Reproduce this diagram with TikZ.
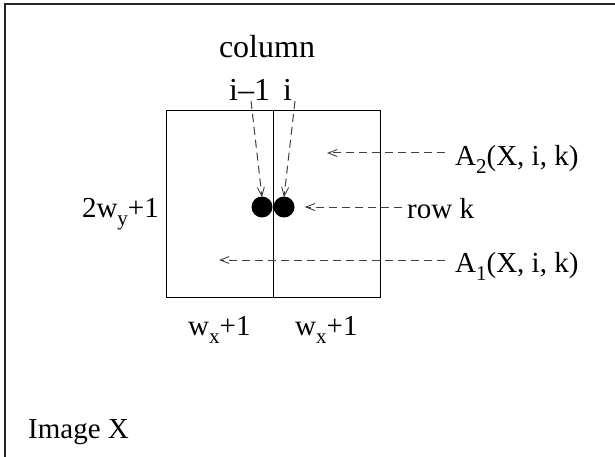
\documentclass[tikz,border=0pt]{standalone}
\usepackage{fontspec}
\setmainfont{Liberation Serif}
\usetikzlibrary{arrows.meta}
\newcommand{\sbs}[1]{\raisebox{-0.28em}{\fontsize{21}{24}\selectfont #1}}
\tikzset{
  lbl/.style={inner sep=0pt, font=\fontsize{29}{34}\selectfont},
  biglbl/.style={inner sep=0pt, font=\fontsize{32}{37}\selectfont},
  frameline/.style={line width=1.4pt, black!85},
  boxline/.style={line width=1pt},
  dasharrow/.style={line width=1pt, black!75, dash pattern=on 8pt off 5pt, -{Straight Barb[length=9pt,width=7pt,line width=0.9pt]}},
  dot/.style={circle, fill=black, minimum size=21pt, inner sep=0pt}
}
\begin{document}
\begin{tikzpicture}[x=1pt,y=-1pt]
\useasboundingbox (0,0) rectangle (615,457);
\draw[frameline] (5,457) -- (5,4) -- (615,4);
% box
\draw[boxline] (166,111) rectangle (380,297);
\draw[boxline] (273,111) -- (273,297);
% dots
\node[dot] (d1) at (262,207) {};
\node[dot] (d2) at (284,207) {};
% labels
\node[biglbl, anchor=base] (col) at (267,58) {column};
\node[biglbl, anchor=base west] (im1) at (229,101) {i–1};
\node[biglbl, anchor=base west] (ii) at (283,101) {i};
\node[lbl, anchor=base east] (wy) at (159,217) {2w\sbs{y}+1};
\node[lbl, anchor=base west] (rowk) at (407,218) {row k};
\node[lbl, anchor=base west] (a2) at (455,165) {A\sbs{2}(X, i, k)};
\node[lbl, anchor=base west] (a1) at (455,272) {A\sbs{1}(X, i, k)};
\node[lbl, anchor=base west] (wx1) at (188,335) {w\sbs{x}+1};
\node[lbl, anchor=base west] (wx2) at (295,335) {w\sbs{x}+1};
\node[lbl, anchor=base west] (img) at (28,438) {Image X};
% free ends
\coordinate (c1) at (251,101);
\coordinate (c2) at (295,101);
\coordinate (a2end) at (327,153);
\coordinate (a1end) at (219,260);
\coordinate (a2start) at (445,153);
\coordinate (a1start) at (445,260);
\coordinate (rkstart) at (402,207);
% arrows
\draw[dasharrow] (c1) -- ([yshift=-1pt]d1.north);
\draw[dasharrow] (c2) -- ([yshift=-1pt]d2.north);
\draw[dasharrow] (a2start) -- (a2end);
\draw[dasharrow] (a1start) -- (a1end);
\draw[dasharrow] (rkstart) -- ([xshift=10pt]d2.east);
\end{tikzpicture}
\end{document}
